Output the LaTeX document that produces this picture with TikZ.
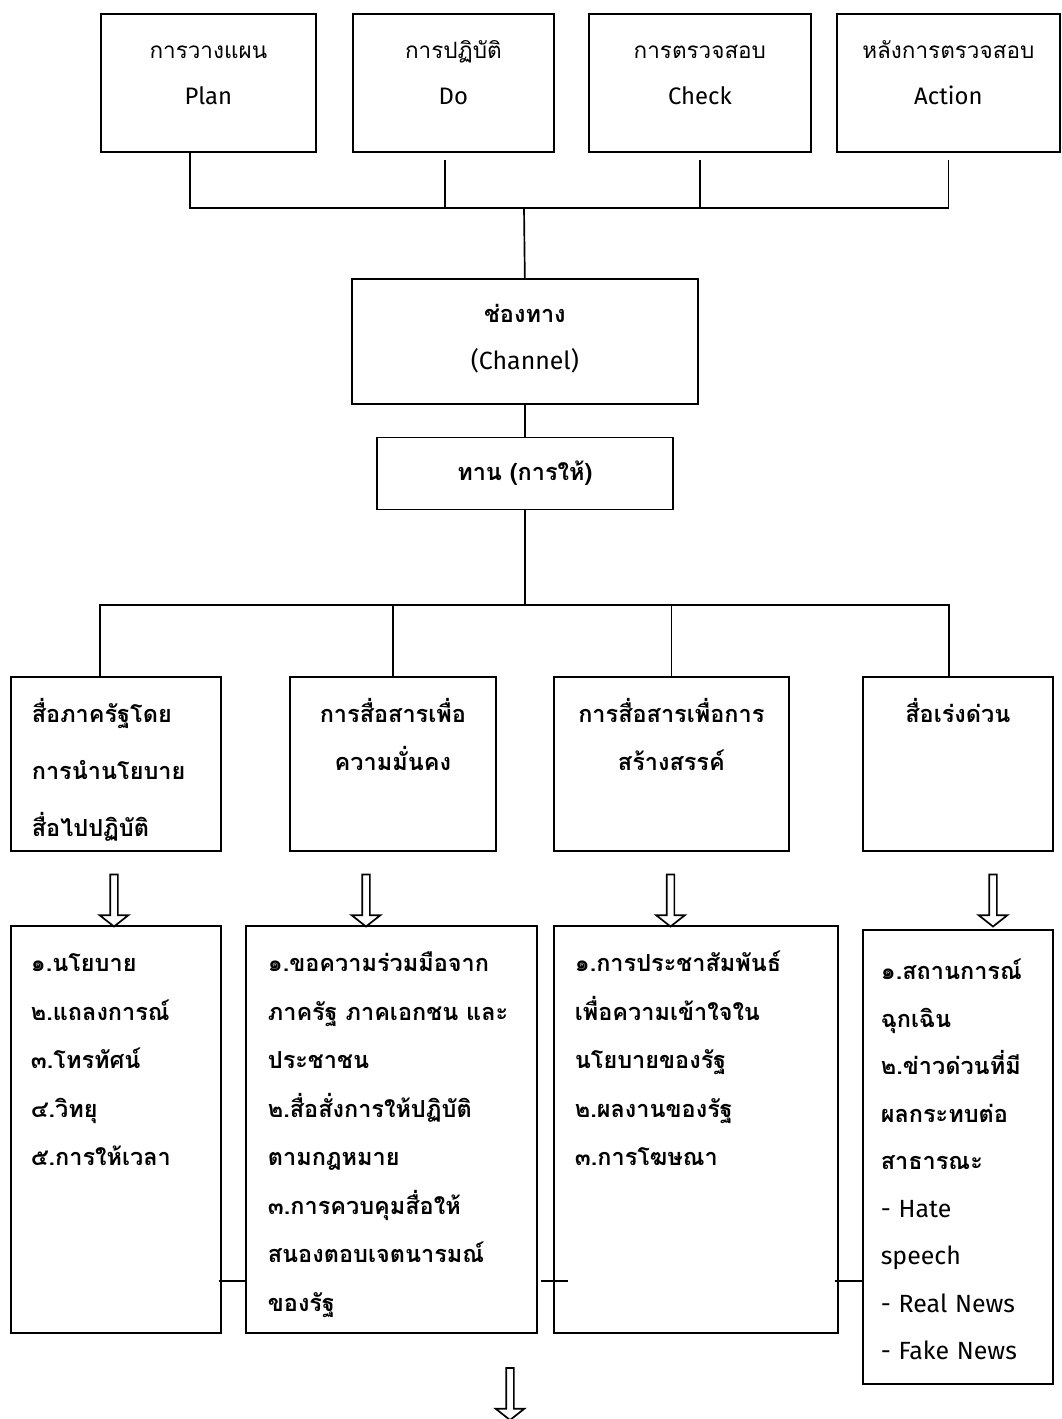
\documentclass[tikz,border=0pt]{standalone}
\usepackage{fontspec}
\newfontfamily\thaifont[Script=Thai]{Loma}
\newfontfamily\latinfont[Scale=1.06]{Fira Sans}
\usepackage{tikz}
\usetikzlibrary{shapes.arrows, positioning}
\tikzstyle{module} = [rectangle, draw=black, inner sep=0pt, anchor=north west]

\begin{document}
\begin{tikzpicture}[line width=1.2pt]
        \tikzstyle{phase} = [module, align=center, minimum height=3.45cm, text height=1.125cm, text depth=2.325cm, font=\thaifont\fontsize{16pt}{32.7pt}\selectfont]
        \tikzstyle{media} = [module, align=center, text height=1.15cm, text depth=3.2cm, font=\thaifont\bfseries\fontsize{16.7pt}{33.8pt}\selectfont]
        \tikzstyle{detail} = [module, align=left, text height=1.15cm, text depth=9.025cm, font=\thaifont\bfseries\fontsize{16.7pt}{34.5pt}\selectfont]
        \tikzstyle{hollow} = [single arrow, draw, shape border rotate=270, inner sep=0.075cm, minimum height=1.3cm, single arrow head extend=0.2625cm, single arrow tip angle=103.5]

        \useasboundingbox (0,0) rectangle (26.525,-35.475);

        \node[phase, text width=5.375cm] (planBox) at (2.5,-0.325) {การวางแผน\\{\latinfont Plan}};
        \node[phase, text width=5.025cm] (doBox) at (8.8,-0.325) {การปฏิบัติ\\{\latinfont Do}};
        \node[phase, text width=5.55cm] (checkBox) at (14.7,-0.325) {การตรวจสอบ\\{\latinfont Check}};
        \node[phase, text width=5.575cm] (actionBox) at (20.9,-0.325) {หลังการตรวจสอบ\\{\latinfont Action}};
        \coordinate (topBus) at (13.1,-5.2);

        \node[module, align=center, text width=8.65cm, text height=1.1cm, text depth=2.025cm, font=\thaifont\bfseries\fontsize{16.7pt}{33.4pt}\selectfont] (channel) at (8.775,-6.95) {ช่องทาง\\{\latinfont\mdseries (Channel)}};
        \node[module, align=center, text width=7.4cm, text height=1.075cm, text depth=0.725cm, font=\thaifont\bfseries\fontsize{16.7pt}{20pt}\selectfont, below=0.8cm of channel] (tan) {ทาน (การให้)};
        \coordinate (midBus) at (13.1,-15.125);

        \node[media, align=left, text width=4.2cm, inner xsep=0.525cm, font=\thaifont\bfseries\fontsize{16.7pt}{40.5pt}\selectfont] (stateMedia) at (0.25,-16.9) {สื่อภาครัฐโดย\\การนำนโยบาย\\สื่อไปปฏิบัติ};
        \node[media, text width=5.15cm] (securityComm) at (7.225,-16.9) {การสื่อสารเพื่อ\\ความมั่นคง};
        \node[media, text width=5.875cm] (creativeComm) at (13.825,-16.9) {การสื่อสารเพื่อการ\\สร้างสรรค์};
        \node[media, text width=4.75cm] (urgentMedia) at (21.55,-16.9) {สื่อเร่งด่วน};

        \node[hollow] (stateArrow) at (2.85,-22.475) {};
        \node[hollow] (securityArrow) at (9.15,-22.475) {};
        \node[hollow] (creativeArrow) at (16.7625,-22.475) {};
        \node[hollow] (urgentArrow) at (24.825,-22.475) {};

        \node[detail, text width=4.25cm, inner xsep=0.5cm] (stateList) at (0.25,-23.125) {๑.นโยบาย\\๒.แถลงการณ์\\๓.โทรทัศน์\\๔.วิทยุ\\๕.การให้เวลา};
        \node[detail, text width=6.175cm, inner xsep=0.55cm] (securityList) at (6.125,-23.125) {๑.ขอความร่วมมือจาก\\ภาครัฐ ภาคเอกชน และ\\ประชาชน\\๒.สื่อสั่งการให้ปฏิบัติ\\ตามกฎหมาย\\๓.การควบคุมสื่อให้\\สนองตอบเจตนารมณ์\\ของรัฐ};
        \node[detail, text width=6.05cm, inner xsep=0.525cm] (creativeList) at (13.825,-23.125) {๑.การประชาสัมพันธ์\\เพื่อความเข้าใจใน\\นโยบายของรัฐ\\๒.ผลงานของรัฐ\\๓.การโฆษณา};
        \node[detail, text width=3.85cm, inner xsep=0.45cm, text height=1.25cm, text depth=10.1cm, font=\thaifont\bfseries\fontsize{16.7pt}{33.8pt}\selectfont] (urgentList) at (21.55,-23.225) {๑.สถานการณ์\\ฉุกเฉิน\\๒.ข่าวด่วนที่มี\\ผลกระทบต่อ\\สาธารณะ\\{\latinfont\mdseries - Hate}\\{\latinfont\mdseries speech}\\{\latinfont\mdseries - Real News}\\{\latinfont\mdseries - Fake News}};
        \coordinate (linkLevel) at (0,-32.025);

        \node[hollow] (nextArrow) at (12.75,-34.8125) {};

        % tree lines
        \draw ([xshift=-0.4625cm]planBox.south) |- (topBus) -| ([yshift=-0.175cm]actionBox.south);
        \draw ([xshift=-0.2125cm,yshift=-0.175cm]doBox.south) -- ([xshift=-0.2125cm]doBox.south |- topBus);
        \draw ([yshift=-0.175cm]checkBox.south) -- (checkBox.south |- topBus);
        \draw (topBus) -- (channel.north);
        \draw (channel.south) -- (channel.south |- tan.north);
        \draw (tan.south) -- (tan.south |- midBus);
        \draw ([xshift=-0.4cm]stateMedia.north) |- (midBus) -| ([xshift=-0.225cm]urgentMedia.north);
        \draw (securityComm.north) -- (securityComm.north |- midBus);
        \draw (creativeComm.north) -- (creativeComm.north |- midBus);

        \draw (stateList.east |- linkLevel) ++(-0.075,0) -- (securityList.west |- linkLevel);
        \draw (securityList.east |- linkLevel) ++(0.075,0) -- (creativeList.west |- linkLevel) -- ++(0.375,0);
        \draw (creativeList.east |- linkLevel) ++(-0.1,0) -- (urgentList.west |- linkLevel);

    \end{tikzpicture}
\end{document}
